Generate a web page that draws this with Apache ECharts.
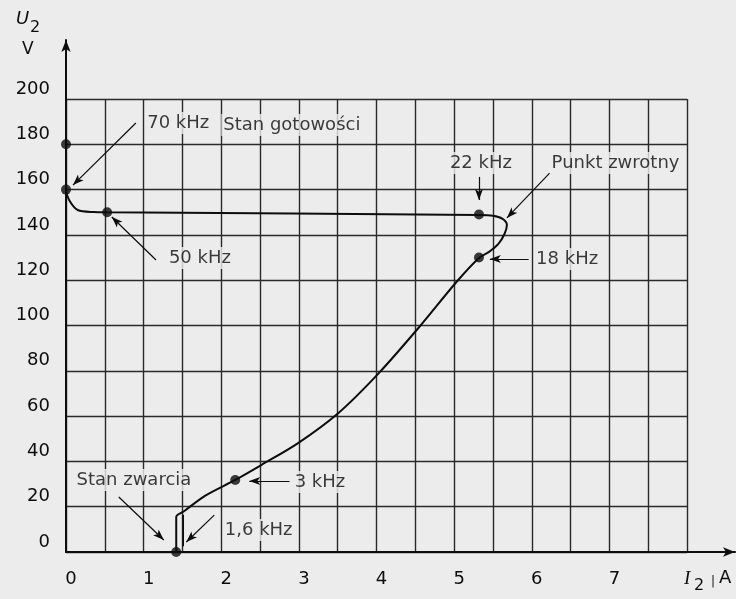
<!DOCTYPE html>
<html>
<head>
<meta charset="utf-8">
<script src="https://cdn.jsdelivr.net/npm/echarts@6/dist/echarts.min.js"></script>
<style>
  html, body { margin: 0; padding: 0; background: #ececec; }
  #chart { width: 736px; height: 599px; }
</style>
</head>
<body>
<div id="chart"></div>
<script>
// characteristic U2 = f(I2)
const curve = [
  [0, 180], [0, 160], [0.04, 155.4], [0.15, 151], [0.36, 150.1], [0.53, 150],
  [5.32, 148.8], [5.5, 148.5], [5.62, 147.2], [5.68, 144.5], [5.65, 140.5],
  [5.57, 136], [5.45, 132.5], [5.32, 129.8], [5.03, 119.2], [4.54, 98.9],
  [4.03, 79], [3.51, 61.4], [2.99, 48.1], [2.52, 38.5], [2.18, 31.8],
  [1.8, 25], [1.52, 18], [1.42, 15.5], [1.42, 0]
];
const shortLeg = [[1.51, 16.5], [1.51, 2.5]];
const dots = [[0, 180], [0, 160], [0.53, 150], [5.32, 149], [5.32, 130], [2.18, 31.8], [1.42, 0]];

// annotations: [x, y, text]
const notes = [
  [1.02, 189.4, '70 kHz'],
  [2.0, 188.5, 'Stan gotowości'],
  [1.3, 129.8, '50 kHz'],
  [4.92, 171.7, '22 kHz'],
  [6.23, 171.7, 'Punkt zwrotny'],
  [6.03, 129.4, '18 kHz'],
  [2.92, 30.9, '3 kHz'],
  [0.11, 31.8, 'Stan zwarcia'],
  [2.02, 9.7, '1,6 kHz']
];
// arrows: [from, to]
const arrows = [
  [[0.9, 189.4], [0.09, 162]],
  [[1.16, 128.9], [0.59, 147.9]],
  [[5.32, 165.6], [5.32, 155.4]],
  [[6.23, 167.3], [5.68, 147.5]],
  [[5.96, 129.4], [5.46, 129.4]],
  [[2.88, 31.3], [2.36, 31.3]],
  [[0.68, 24.3], [1.26, 5.3]],
  [[1.91, 16.3], [1.55, 4.4]]
];
const xLabels = [0, 1, 2, 3, 4, 5, 6, 7];

const ink = '#0d0d0d';
const font = 'DejaVu Sans';

const chart = echarts.init(document.getElementById('chart'), null, { renderer: 'canvas' });

const txt = (text, left, top, extra) => ({
  text, left, top, padding: 0,
  textStyle: Object.assign({ color: ink, fontFamily: font, fontSize: 17, fontWeight: 'normal' }, extra || {})
});

chart.setOption({
  backgroundColor: '#ececec',
  animation: false,
  title: [
    txt('U', 16, 10, { fontStyle: 'italic', fontSize: 18 }),
    txt('2', 30, 20, { fontSize: 16 }),
    txt('V', 22, 41),
    txt('I', 684, 569, { fontStyle: 'italic', fontFamily: 'Liberation Serif', fontSize: 19 }),
    txt('2', 694, 578, { fontSize: 16 }),
    txt('|', 711, 576, { fontSize: 12 }),
    txt('A', 719, 569, { fontSize: 18 })
  ],
  grid: [
    { left: 66, right: 49, top: 99, bottom: 47 },
    { left: 66, right: 1, top: 40, bottom: 47 }
  ],
  xAxis: [
    {
      type: 'value', min: 0, max: 8, interval: 0.5,
      axisLine: { show: false }, axisTick: { show: false },
      axisLabel: {
        margin: 18, color: ink, fontFamily: font, fontSize: 18, padding: [0, 0, 0, 10],
        formatter: v => xLabels.includes(v) ? String(v) : ''
      },
      splitLine: { show: true, lineStyle: { color: '#2a2a2a', width: 1.4 } }
    },
    {
      gridIndex: 1, type: 'value', min: 0, max: 1,
      axisLine: { show: true, symbol: ['none', 'arrow'], symbolSize: [7, 12], lineStyle: { color: ink, width: 2 } },
      axisTick: { show: false }, axisLabel: { show: false }, splitLine: { show: false }
    }
  ],
  yAxis: [
    {
      type: 'value', min: 0, max: 200, interval: 20,
      axisLine: { show: false }, axisTick: { show: false },
      axisLabel: { margin: 16, color: ink, fontFamily: font, fontSize: 18, verticalAlign: 'bottom', lineHeight: 20 },
      splitLine: { show: true, lineStyle: { color: '#2a2a2a', width: 1.4 } }
    },
    {
      gridIndex: 1, type: 'value', min: 0, max: 1,
      axisLine: { show: true, symbol: ['none', 'arrow'], symbolSize: [7, 12], lineStyle: { color: ink, width: 2 } },
      axisTick: { show: false }, axisLabel: { show: false }, splitLine: { show: false }
    }
  ],
  series: [
    {
      type: 'line', data: curve, smooth: 0.3, showSymbol: false,
      lineStyle: { color: ink, width: 2 }, silent: true,
      markLine: {
        silent: true, symbol: ['none', 'arrow'], symbolSize: [6, 11],
        label: { show: false },
        lineStyle: { color: ink, width: 1.2, type: 'solid' },
        data: arrows.map(a => [{ coord: a[0] }, { coord: a[1] }])
      }
    },
    {
      type: 'line', data: shortLeg, showSymbol: false,
      lineStyle: { color: ink, width: 1.6 }, silent: true
    },
    {
      type: 'scatter', data: dots, symbolSize: 10,
      itemStyle: { color: ink }, silent: true
    },
    {
      type: 'scatter', data: notes, symbolSize: 0, silent: true,
      label: {
        show: true, position: [0, 0], align: 'left', verticalAlign: 'middle',
        formatter: p => p.data[2],
        color: ink, fontFamily: font, fontSize: 18,
        backgroundColor: '#ececec', padding: [2, 2]
      }
    }
  ]
});
</script>
</body>
</html>
